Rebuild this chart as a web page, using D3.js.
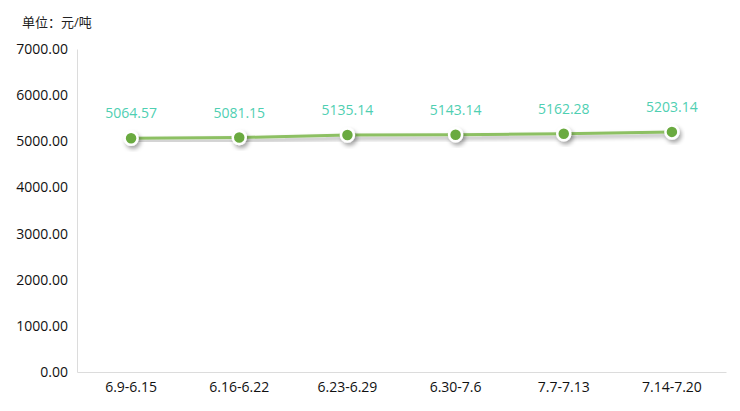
<!DOCTYPE html>
<html><head><meta charset="utf-8">
<script src="https://cdn.jsdelivr.net/npm/d3@7/dist/d3.min.js"></script>
<style>body{margin:0;background:#fff}svg{display:block}</style>
</head><body><svg id="c" width="740" height="411"></svg>
<script>
const categories = ["6.9-6.15","6.16-6.22","6.23-6.29","6.30-7.6","7.7-7.13","7.14-7.20"];
const values = [5064.57,5081.15,5135.14,5143.14,5162.28,5203.14];
const yTicks = [0,1000,2000,3000,4000,5000,6000,7000];
const unitLabel = "单位：元/吨";

(function(){
const svg = d3.select("#c");
const font = "'Open Sans','Noto Sans CJK SC',sans-serif";
const mLeft = 77, mRight = 726, mTop = 49, mBottom = 372;

const x = d3.scaleBand().domain(categories).range([mLeft, mRight]);
const y = d3.scaleLinear().domain([0, 7000]).range([mBottom, mTop]);

const defs = svg.append("defs");
const f = defs.append("filter").attr("id","sh").attr("x","-50%").attr("y","-50%").attr("width","200%").attr("height","200%");
f.append("feDropShadow").attr("dx",2).attr("dy",3).attr("stdDeviation",2).attr("flood-color","#000").attr("flood-opacity",0.35);

svg.append("text").attr("x",22).attr("y",27).text(unitLabel)
  .attr("font-family",font).attr("font-size",13).attr("fill","#222");

const ya = svg.append("g").attr("transform",`translate(${mLeft},0)`)
  .call(d3.axisLeft(y).tickValues(yTicks).tickFormat(d=>d.toFixed(2)).tickSize(0).tickPadding(9));
ya.select(".domain").attr("stroke","#dcdcdc");
ya.selectAll("text").attr("font-family",font).attr("font-size",14).attr("fill","#111");

const xa = svg.append("g").attr("transform",`translate(0,${mBottom})`)
  .call(d3.axisBottom(x).tickSize(0).tickPadding(10));
xa.select(".domain").attr("stroke","#dcdcdc");
xa.selectAll("text").attr("font-family",font).attr("font-size",14).attr("fill","#111");

const cx = d => x(d) + x.bandwidth()/2;
const data = categories.map((c,i)=>({c, v: values[i]}));

svg.append("path").datum(data)
  .attr("d", d3.line().x(d=>cx(d.c)).y(d=>y(d.v)))
  .attr("fill","none").attr("stroke","#8dc063").attr("stroke-width",3)
  .attr("filter","url(#sh)");

svg.selectAll("circle.pt").data(data).join("circle").attr("class","pt")
  .attr("cx",d=>cx(d.c)).attr("cy",d=>y(d.v)).attr("r",6.5)
  .attr("fill","#6aaa3f").attr("stroke","#fff").attr("stroke-width",2.5)
  .attr("filter","url(#sh)");

svg.selectAll("text.lbl").data(data).join("text").attr("class","lbl")
  .attr("x",d=>cx(d.c)).attr("y",d=>y(d.v)-20).attr("text-anchor","middle")
  .attr("font-family",font).attr("font-size",14).attr("fill","#4fcfb2")
  .text(d=>d.v.toFixed(2));
})();
</script></body></html>
